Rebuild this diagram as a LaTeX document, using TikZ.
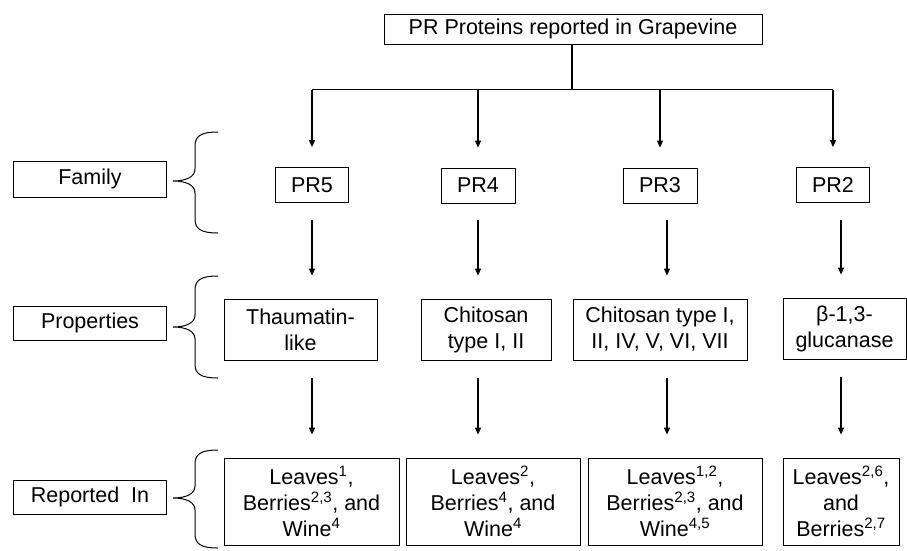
\documentclass[tikz,border=0pt]{standalone}
\usepackage{fontspec}
\setmainfont{Liberation Sans}
\usetikzlibrary{arrows.meta}
\begin{document}
\begin{tikzpicture}[x=1pt,y=-1pt,>={Triangle[length=7pt,width=6pt]},
  font=\fontsize{21.5}{26}\selectfont,
  box/.style={draw,line width=0.8pt,align=center,inner sep=0pt},
  link/.style={->,line width=1.2pt}]
\useasboundingbox (0,0) rectangle (907,550);
% The title and the row labels
\node[box,minimum width=378pt,minimum height=30pt] (top) at (573,29) {PR Proteins reported in Grapevine};
\node[box,minimum width=153pt,minimum height=36pt] (fam) at (90,179) {Family};
\node[box,minimum width=153pt,minimum height=34pt] (prop) at (90,323) {Properties};
\node[box,minimum width=153pt,minimum height=34pt] (rep) at (90,497) {Reported~ In};

% The families
\node[box,minimum width=73pt,minimum height=35pt] (pr5) at (312,185) {PR5};
\node[box,minimum width=74pt,minimum height=35pt] (pr4) at (478,185.5) {PR4};
\node[box,minimum width=74pt,minimum height=35pt] (pr3) at (660,185.5) {PR3};
\node[box,minimum width=73pt,minimum height=35pt] (pr2) at (833,185) {PR2};

% The properties
\node[box,minimum width=153pt,minimum height=61pt] (th) at (300.5,329.5) {Thaumatin-\\like};
\node[box,minimum width=130pt,minimum height=61pt] (chA) at (486,329.5) {Chitosan\\type I, II};
\node[box,minimum width=174pt,minimum height=61pt] (chB) at (660,329.5) {Chitosan type I,\\II, IV, V, VI, VII};
\node[box,minimum width=123pt,minimum height=61pt] (glu) at (844.5,328.5) {β-1,3-\\glucanase};

% Where they were reported
\node[box,minimum width=175pt,minimum height=87pt] (lv5) at (311.5,501.5)
  {Leaves\textsuperscript{1},\\Berries\textsuperscript{2,3}, and\\Wine\textsuperscript{4}};
\node[box,minimum width=174pt,minimum height=87pt] (lv4) at (493,501.5)
  {Leaves\textsuperscript{2},\\Berries\textsuperscript{4}, and\\Wine\textsuperscript{4}};
\node[box,minimum width=174pt,minimum height=87pt] (lv3) at (675,501.5)
  {Leaves\textsuperscript{1,2},\\Berries\textsuperscript{2,3}, and\\Wine\textsuperscript{4,5}};
\node[box,minimum width=116pt,minimum height=87pt] (lv2) at (841,501.5)
  {Leaves\textsuperscript{2,6},\\and\\Berries\textsuperscript{2,7}};

% The bus from the title
\coordinate (bus) at (572,89.5);
\draw[line width=1.2pt] (top.south -| bus) -- (bus);
\draw[line width=1.6pt] (pr5 |- bus) -- (pr2 |- bus);
\foreach \n in {pr5,pr4,pr3,pr2}
  \draw[link,shorten >=20pt] (\n |- bus) -- (\n);

% The columns of arrows
\coordinate (x5) at (312,0);
\coordinate (x4) at (478,0);
\coordinate (x3) at (667,0);
\coordinate (x2) at (841,0);
\foreach \a/\b/\c/\x in {pr5/th/lv5/x5, pr4/chA/lv4/x4, pr3/chB/lv3/x3, pr2/glu/lv2/x2}
{
  \draw[link,shorten <=17pt,shorten >=23pt] (\a.south -| \x) -- (\b.north -| \x);
  \draw[link,shorten <=18pt,shorten >=23pt] (\b.south -| \x) -- (\c.north -| \x);
}

% The braces
\foreach \t/\m/\b in {132/181/233, 276/327/378, 450/498/548}
  \draw[line width=1pt] (218,\t) .. controls (201,\t) and (195,\t+4) .. (195,\t+14)
    -- (195,\m-12) .. controls (195,\m-4) and (186,\m) .. (173,\m)
    .. controls (186,\m) and (195,\m+4) .. (195,\m+12)
    -- (195,\b-14) .. controls (195,\b-4) and (201,\b) .. (218,\b);

\end{tikzpicture}
\end{document}
